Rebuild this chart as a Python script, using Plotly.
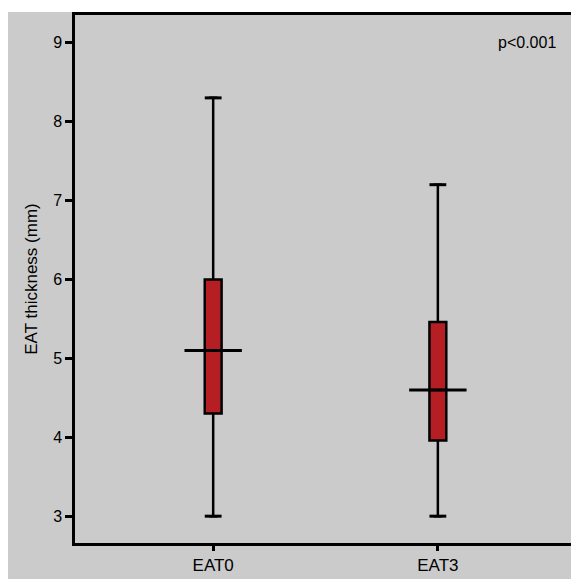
import plotly.graph_objects as go

categories = ["EAT0", "EAT3"]
positions = [0, 1]
lower = [3.0, 3.0]
q1 = [4.3, 3.96]
median = [5.1, 4.6]
q3 = [6.0, 5.46]
upper = [8.3, 7.2]
y_ticks = [3, 4, 5, 6, 7, 8, 9]

GRAY = "#cbcbcb"
RED = "#b51f24"

fig = go.Figure()
fig.add_trace(go.Box(
    x=positions, q1=q1, median=median, q3=q3,
    lowerfence=lower, upperfence=upper,
    width=0.075, fillcolor=RED,
    line=dict(color="black", width=2.5),
    boxpoints=False, hoverinfo="skip", showlegend=False,
))
# extended median lines
fig.add_trace(go.Scatter(
    x=positions, y=median, mode="markers",
    marker=dict(symbol="line-ew", size=41, line=dict(color="black", width=3)),
    showlegend=False, hoverinfo="skip",
))
# whisker caps
fig.add_trace(go.Scatter(
    x=positions + positions, y=lower + upper, mode="markers",
    marker=dict(symbol="line-ew", size=12, line=dict(color="black", width=3)),
    showlegend=False, hoverinfo="skip",
))

fig.add_shape(type="rect", xref="paper", yref="paper", x0=-0.2, x1=1.05, y0=1.0056, y1=1.03,
              fillcolor="white", line=dict(width=0), layer="below")

fig.add_annotation(text="p<0.001", xref="paper", yref="y", x=0.972, y=9.0, showarrow=False,
                   xanchor="right", yanchor="middle", font=dict(size=16, color="black"))

fig.update_layout(
    width=571, height=571,
    margin=dict(l=67, r=4, t=6, b=32),
    paper_bgcolor=GRAY, plot_bgcolor=GRAY,
    font=dict(family="Liberation Sans, Arial, sans-serif", color="black", size=16),
    xaxis=dict(
        range=[-0.615, 1.597], tickvals=positions, ticktext=categories,
        showgrid=False, zeroline=False, showline=True, linecolor="black", linewidth=2.5,
        mirror=True, ticks="outside", ticklen=5, tickwidth=2.5, tickcolor="black",
        tickfont=dict(size=17),
    ),
    yaxis=dict(
        range=[2.66, 9.35], tickvals=y_ticks,
        showgrid=False, zeroline=False, showline=True, linecolor="black", linewidth=2.5,
        mirror=True, ticks="outside", ticklen=7, tickwidth=2.5, tickcolor="black",
        title=dict(text="EAT thickness (mm)", font=dict(size=17), standoff=12),
        tickfont=dict(size=16),
    ),
)
fig.write_html("out.html")
